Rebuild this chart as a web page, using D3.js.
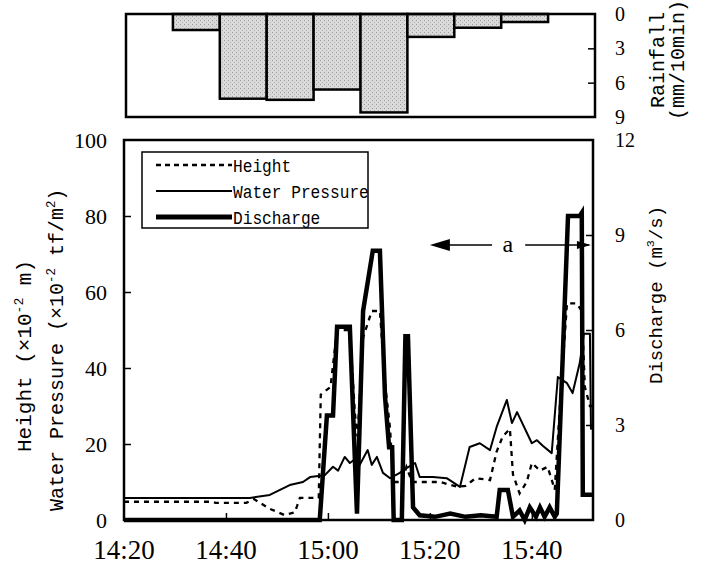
<!DOCTYPE html>
<html><head><meta charset="utf-8">
<script src="https://cdn.jsdelivr.net/npm/d3@7"></script>
<style>body{margin:0;background:#fff}svg{display:block}</style>
</head><body>
<svg id="chart" width="712" height="567"></svg>
<script>
// ---------- data (times = minutes after 14:20) ----------
const rainStart = [10, 20, 30, 40, 50, 60, 70, 80];
const rainfall  = [1.4, 7.4, 7.5, 6.6, 8.6, 2.0, 1.2, 0.7];
const rainTicks = [0, 3, 6, 9];

const timeTickLabels = ["14:20", "14:40", "15:00", "15:20", "15:40"];
const leftTicks = [0, 20, 40, 60, 80, 100];
const rightTicks = [0, 3, 6, 9, 12];

const heightT = [0, 17, 18, 24, 25.5, 28.5, 31.5, 33.5, 34.5, 38.2, 38.6, 40.5, 41.8, 44.3, 45.3, 45.8, 46.9, 48.6, 50.2, 51.2, 52.2, 52.8, 54.5, 55.4, 56.5, 58.4, 62, 65.5, 67, 69, 71.8, 73.1, 74.3, 75.7, 76.3, 77.6, 79, 80, 81.6, 83.1, 84.5, 85.5, 86.9, 88.8, 89.8, 90.4, 91.4, 91.8];
const heightV = [4.8, 4.8, 4.5, 4.5, 5.5, 3, 1.3, 2, 5.8, 5.8, 33, 35, 50, 50, 28, 22, 48, 55, 55, 36, 24, 10, 10, 14, 10, 10, 10, 8.7, 9, 11, 10.5, 18, 22, 24, 12, 7, 10, 15, 13, 14, 8, 30, 57, 57, 55, 35, 30, 30];

const pressureT = [0, 24.7, 28.6, 32.5, 35.1, 36.5, 39.4, 41, 42, 43.3, 44.3, 45.3, 45.9, 47.8, 48.6, 49.6, 50.8, 52.2, 54.1, 55.5, 57.1, 58, 60.6, 63.3, 65.9, 67.8, 69.8, 71.8, 73.1, 75.1, 76.1, 77.1, 80, 81, 82.2, 83.9, 85.1, 86.9, 88, 89.4, 90.2, 91.4, 91.6, 91.8];
const pressureV = [5.8, 5.8, 6.6, 9.2, 10, 11.3, 11.8, 14, 13, 16.6, 15, 16, 13.7, 18.4, 14.5, 16.6, 12.4, 11, 12.4, 13.7, 15, 11.3, 11.3, 11, 8.7, 19.2, 20.2, 18.4, 24.5, 31.6, 25.5, 28.4, 20.2, 21, 19.5, 17.6, 37.6, 36, 33.4, 41.3, 49, 49, 24, 24];

const dischargeT = [0, 38.4, 39.8, 41.0, 41.8, 44.3, 45.7, 46.9, 48.8, 50.2, 51.2, 52.0, 52.6, 52.9, 54.5, 55.2, 55.7, 56.7, 58.0, 61, 64, 67, 70, 73.1, 73.7, 75.3, 76.3, 77.6, 78.6, 79.6, 80.8, 81.6, 82.5, 83.5, 84.5, 84.9, 87.1, 89.4, 89.8, 90.0, 91.8];
const dischargeV = [0, 0, 3.3, 3.3, 6.1, 6.1, 0.2, 6.6, 8.5, 8.5, 3.9, 2.3, 2.3, 0, 0, 5.8, 5.8, 0.4, 0.15, 0.1, 0.2, 0.1, 0.15, 0.1, 0.95, 0.95, 0.1, 0.3, 0, 0.4, 0.1, 0.4, 0.1, 0.4, 0.1, 0.2, 9.6, 9.6, 9.7, 0.8, 0.8];

// ---------- scales ----------
const svg = d3.select("#chart");
const toMin = s => { const [h, m] = s.split(":").map(Number); return (h - 14) * 60 + m - 20; };

const x  = d3.scaleLinear().domain([0, 92]).range([124, 593]);
const yL = d3.scaleLinear().domain([0, 100]).range([520, 140]);
const yR = d3.scaleLinear().domain([0, 12]).range([520, 140]);
const xr = d3.scaleLinear().domain([0, 100]).range([126, 595]);
const yr = d3.scaleLinear().domain([0, 9]).range([14, 117]);

const MONO = "'Liberation Mono', monospace";
const SERIF = "'Liberation Serif', serif";

// stipple pattern for rainfall bars
const defs = svg.append("defs");
const pat = defs.append("pattern").attr("id", "stip").attr("patternUnits", "userSpaceOnUse").attr("width", 4).attr("height", 4);
pat.append("rect").attr("width", 4).attr("height", 4).attr("fill", "#dadada");
pat.append("rect").attr("x", 0).attr("y", 0).attr("width", 1).attr("height", 1).attr("fill", "#9a9a9a");
pat.append("rect").attr("x", 2).attr("y", 2).attr("width", 1).attr("height", 1).attr("fill", "#b0b0b0");

// ---------- rainfall panel ----------
const rain = svg.append("g");
rain.selectAll("rect.bar").data(rainfall).join("rect")
  .attr("x", (d, i) => xr(rainStart[i]))
  .attr("width", (d, i) => xr(rainStart[i] + 10) - xr(rainStart[i]))
  .attr("y", yr(0))
  .attr("height", d => yr(d) - yr(0))
  .attr("fill", "url(#stip)").attr("stroke", "#000").attr("stroke-width", 2.5);
rain.append("rect").attr("x", xr(0)).attr("y", yr(0)).attr("width", xr(100) - xr(0)).attr("height", yr(9) - yr(0))
  .attr("fill", "none").attr("stroke", "#000").attr("stroke-width", 2.5);
rain.append("g").attr("transform", `translate(${xr(100)},0)`)
  .call(d3.axisLeft(yr).tickValues([3, 6]).tickSize(7).tickFormat(""))
  .call(g => g.select(".domain").remove())
  .call(g => g.selectAll("line").attr("stroke-width", 1.5));
rain.selectAll("text.rt").data(rainTicks).join("text").attr("class", "rt")
  .attr("x", 615).attr("y", d => yr(d)).attr("dy", "0.35em")
  .style("font-family", SERIF).style("font-size", "20px").text(d => d);

// ---------- main frame / axes ----------
const main = svg.append("g");
main.append("rect").attr("x", x(0)).attr("y", yL(100)).attr("width", x(92) - x(0)).attr("height", yL(0) - yL(100))
  .attr("fill", "none").attr("stroke", "#000").attr("stroke-width", 2.5);

main.append("g").attr("transform", `translate(${x(0)},0)`)
  .call(d3.axisRight(yL).tickValues([20, 40, 60, 80]).tickSize(7).tickFormat(""))
  .call(g => g.select(".domain").remove())
  .call(g => g.selectAll("line").attr("stroke-width", 1.5));
main.append("g").attr("transform", `translate(${x(92)},0)`)
  .call(d3.axisLeft(yR).tickValues([3, 6, 9]).tickSize(7).tickFormat(""))
  .call(g => g.select(".domain").remove())
  .call(g => g.selectAll("line").attr("stroke-width", 1.5));
main.append("g").attr("transform", `translate(0,${yL(0)})`)
  .call(d3.axisTop(x).tickValues(timeTickLabels.map(toMin).slice(1)).tickSize(7).tickFormat(""))
  .call(g => g.select(".domain").remove())
  .call(g => g.selectAll("line").attr("stroke-width", 1.5));

main.selectAll("text.lt").data(leftTicks).join("text").attr("class", "lt")
  .attr("x", 107).attr("y", d => yL(d)).attr("dy", "0.35em").attr("text-anchor", "end")
  .style("font-family", SERIF).style("font-size", "22px").text(d => d);
main.selectAll("text.rt2").data(rightTicks).join("text").attr("class", "rt2")
  .attr("x", 615).attr("y", d => yR(d)).attr("dy", "0.35em")
  .style("font-family", SERIF).style("font-size", "20px").text(d => d);
main.selectAll("text.bt").data(timeTickLabels).join("text").attr("class", "bt")
  .attr("x", d => x(toMin(d))).attr("y", 559).attr("text-anchor", "middle")
  .style("font-family", SERIF).style("font-size", "27px").text(d => d);

// ---------- series ----------
const lineL = d3.line().x(d => x(d[0])).y(d => yL(d[1]));
const lineR = d3.line().x(d => x(d[0])).y(d => yR(d[1]));
main.append("path").datum(d3.zip(pressureT, pressureV)).attr("d", lineL)
  .attr("fill", "none").attr("stroke", "#000").attr("stroke-width", 2).attr("stroke-linejoin", "round");
main.append("path").datum(d3.zip(heightT, heightV)).attr("d", lineL)
  .attr("fill", "none").attr("stroke", "#000").attr("stroke-width", 2.3).attr("stroke-dasharray", "5,5");
main.append("path").datum(d3.zip(dischargeT, dischargeV)).attr("d", lineR)
  .attr("fill", "none").attr("stroke", "#000").attr("stroke-width", 4.5).attr("stroke-linejoin", "miter");

// ---------- legend ----------
const legendItems = [
  {label: "Height", w: 2.3, dash: "5,4"},
  {label: "Water Pressure", w: 2, dash: null},
  {label: "Discharge", w: 5, dash: null}
];
const lg = svg.append("g").attr("transform", "translate(142,152)");
lg.append("rect").attr("width", 226).attr("height", 76).attr("fill", "#fff").attr("stroke", "#000").attr("stroke-width", 1.5);
legendItems.forEach((it, i) => {
  const yy = 13 + i * 26;
  lg.append("line").attr("x1", 14).attr("x2", 90).attr("y1", yy).attr("y2", yy)
    .attr("stroke", "#000").attr("stroke-width", it.w).attr("stroke-dasharray", it.dash);
  lg.append("text").attr("x", 91).attr("y", yy).attr("dy", "0.36em")
    .style("font-family", MONO).style("font-size", "19px")
    .attr("textLength", it.label.length * 9.7).attr("lengthAdjust", "spacingAndGlyphs").text(it.label);
});

// ---------- annotation "a" ----------
const ay = yL(72.4);
const ann = svg.append("g");
ann.append("line").attr("x1", x(61.5)).attr("x2", x(72.2)).attr("y1", ay).attr("y2", ay).attr("stroke", "#000").attr("stroke-width", 1.5);
ann.append("path").attr("d", `M${x(60)},${ay} L${x(60) + 20},${ay - 6} L${x(60) + 20},${ay + 6} Z`).attr("fill", "#000");
ann.append("text").attr("x", x(75.3)).attr("y", ay).attr("dy", "0.3em").attr("text-anchor", "middle")
  .style("font-family", SERIF).style("font-size", "24px").text("a");
ann.append("line").attr("x1", x(78.7)).attr("x2", x(91.2)).attr("y1", ay).attr("y2", ay).attr("stroke", "#000").attr("stroke-width", 1.5);
ann.append("path").attr("d", `M${x(91.6)},${ay} L${x(91.6) - 14},${ay - 4} L${x(91.6) - 14},${ay + 4} Z`).attr("fill", "#000");

// ---------- axis titles ----------
function rotTitle(xp, yp, parts, size, family) {
  const t = svg.append("text").attr("transform", `translate(${xp},${yp}) rotate(-90)`)
    .style("font-family", family).style("font-size", size + "px");
  parts.forEach(p => {
    if (p.sup) t.append("tspan").attr("dy", -size * 0.4).style("font-size", (size * 0.62) + "px").text(p.t);
    else t.append("tspan").attr("dy", p.after ? size * 0.4 : 0).text(p.t);
  });
  return t;
}
rotTitle(31, 452, [{t: "Height   (×10"}, {t: "-2", sup: true}, {t: " m)", after: true}], 21, MONO);
rotTitle(63, 511, [{t: "Water Pressure (×10"}, {t: "-2", sup: true}, {t: " tf/m", after: true}, {t: "2", sup: true}, {t: ")", after: true}], 20, MONO);
rotTitle(662, 384, [{t: "Discharge  (m"}, {t: "3", sup: true}, {t: "/s)", after: true}], 19, MONO);
rotTitle(664, 108, [{t: "Rainfall"}], 20, MONO);
rotTitle(684, 120, [{t: "(mm/10min)"}], 20, MONO);
</script>
</body></html>
